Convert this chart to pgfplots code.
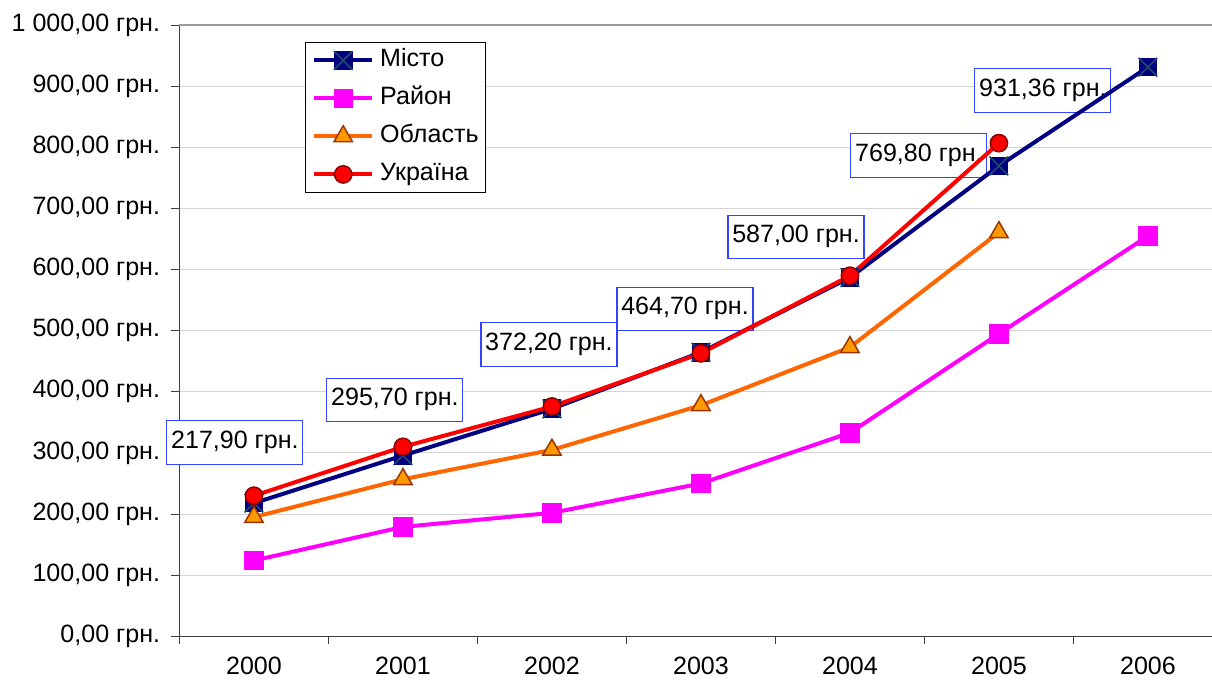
\documentclass[border=0pt]{standalone}
\usepackage{pgfplots}
\pgfplotsset{compat=1.18}
\usepackage{fontspec}
\setmainfont{Liberation Sans}
\definecolor{mnavy}{HTML}{000080}
\definecolor{mcross}{HTML}{1F4A6E}
\definecolor{mmag}{HTML}{FF00FF}
\definecolor{morange}{HTML}{FF6600}
\definecolor{mtri}{HTML}{FF9900}
\definecolor{mtriedge}{HTML}{993300}
\definecolor{mred}{HTML}{FF0000}
\definecolor{mrededge}{HTML}{8B0000}
\definecolor{lblblue}{HTML}{3344FF}
\pgfdeclareplotmark{sqx}{%
  \pgfpathrectangle{\pgfqpoint{-\pgfplotmarksize}{-\pgfplotmarksize}}{\pgfqpoint{2\pgfplotmarksize}{2\pgfplotmarksize}}%
  \pgfusepathqfill
  \pgfpathmoveto{\pgfqpoint{-\pgfplotmarksize}{-\pgfplotmarksize}}%
  \pgfpathlineto{\pgfqpoint{\pgfplotmarksize}{\pgfplotmarksize}}%
  \pgfpathmoveto{\pgfqpoint{-\pgfplotmarksize}{\pgfplotmarksize}}%
  \pgfpathlineto{\pgfqpoint{\pgfplotmarksize}{-\pgfplotmarksize}}%
  \pgfusepathqstroke}
\newcommand{\bigfont}{\fontsize{18.8}{22}\selectfont}
\begin{document}
\begin{tikzpicture}
\begin{axis}[
  scale only axis, width=774.4pt, height=458.3pt,
  xmin=-0.5, xmax=6.43, ymin=0, ymax=1000,
  axis lines*=left,
  axis line style={draw=black!75, line width=1.1pt},
  clip=false,
  xtick={0,...,6},
  xticklabels={2000,2001,2002,2003,2004,2005,2006},
  x tick style={draw=none},
  minor xtick={-0.5,0.5,...,5.5},
  minor x tick style={draw=black!75, line width=0.8pt},
  minor tick length=6pt,
  ytick={0,100,...,1000},
  yticklabels={{0,00 грн.},{100,00 грн.},{200,00 грн.},{300,00 грн.},{400,00 грн.},{500,00 грн.},{600,00 грн.},{700,00 грн.},{800,00 грн.},{900,00 грн.},{1 000,00 грн.}},
  y tick style={draw=black!75, line width=0.8pt},
  major tick length=6pt,
  tick align=outside,
  tick label style={font=\bigfont},
  yticklabel style={xshift=-5pt},
  xticklabel style={yshift=-6pt},
  /pgf/number format/assume math mode=true,
  ymajorgrids,
  grid style={draw=black!17, line width=0.8pt},
  legend style={at={(0.1216,0.9727)}, anchor=north west, draw=black, line width=0.8pt, fill=white,
    inner xsep=5pt, inner ysep=5pt, row sep=11.5pt, column sep=4.5pt,
    nodes={inner sep=0pt, text height=13pt, text depth=4pt, anchor=west},
    font=\bigfont},
  legend cell align=left,
  legend image code/.code={\draw[#1, mark repeat=2, mark phase=2] plot coordinates {(0pt,0pt) (21.75pt,0pt) (43.5pt,0pt)};},
]
% top border line
\draw[black!40, line width=1.2pt] (rel axis cs:0,1) -- (rel axis cs:1,1);
% data labels
\begin{scope}[every node/.style={draw=lblblue, line width=0.8pt, fill=white, font=\bigfont, minimum width=102pt, minimum height=32.5pt, inner xsep=3pt, text height=13pt, text depth=4pt}]
\node at (axis cs:-0.128,317.2) {217,90 грн.};
\node at (axis cs:0.946,386.7) {295,70 грн.};
\node at (axis cs:1.98,477.6) {372,20 грн.};
\node at (axis cs:2.893,535.7) {464,70 грн.};
\node at (axis cs:3.638,653.5) {587,00 грн.};
\node at (axis cs:4.463,786.9) {769,80 грн.};
\node at (axis cs:5.295,893.3) {931,36 грн.};
\end{scope}
\addplot[mnavy, line width=3pt, mark=sqx, mark size=7pt, mark options={fill=mnavy, draw=mcross, line width=1.2pt}]
  coordinates {(0,217.9) (1,295.7) (2,372.2) (3,464.7) (4,587.0) (5,769.8) (6,931.36)};
\addlegendentry{Місто}
\addplot[mmag, line width=3pt, mark=square*, mark size=7pt, mark options={fill=mmag, draw=mmag, line width=0.5pt}]
  coordinates {(0,124) (1,179) (2,202) (3,250) (4,333) (5,495) (6,655)};
\addlegendentry{Район}
\addplot[morange, line width=3pt, mark=triangle*, mark size=8pt, mark options={fill=mtri, draw=mtriedge, line width=1.1pt}]
  coordinates {(0,195) (1,257) (2,305) (3,378) (4,473) (5,661)};
\addlegendentry{Область}
\addplot[mred, line width=3pt, mark=*, mark size=6.5pt, mark options={fill=mred, draw=mrededge, line width=1.1pt}]
  coordinates {(0,230) (1,310) (2,376) (3,463) (4,590) (5,807)};
\addlegendentry{Україна}
\end{axis}
\pgfresetboundingbox
\path (current axis.south west) ++(-134.6pt,-35.8pt) rectangle ++(909pt,513pt);
\end{tikzpicture}
\end{document}
